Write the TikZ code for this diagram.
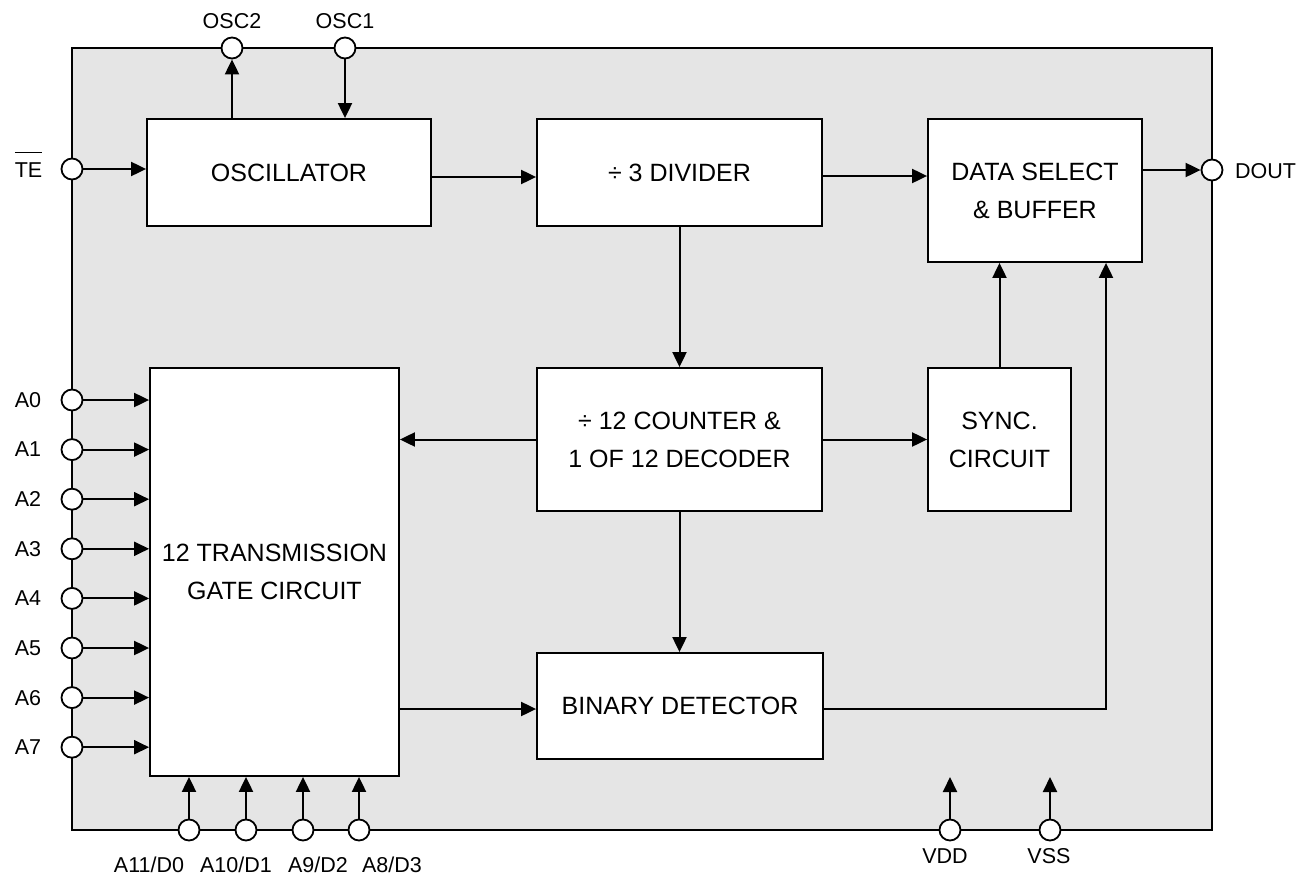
\documentclass[tikz,border=0pt]{standalone}
\usepackage{fontspec}
\setmainfont{Liberation Sans}
\usepackage{xcolor}
\usetikzlibrary{arrows.meta}

\definecolor{chipgray}{RGB}{229,229,229}

\begin{document}
\begin{tikzpicture}[x=1pt, y=-1pt,
	block/.style={rectangle, draw, fill=white, line width=1.8pt, align=center,
		inner sep=0pt, font=\fontsize{25}{38}\selectfont},
	pin/.style={circle, draw, fill=white, line width=1.8pt, minimum size=21pt, inner sep=0pt},
	pinlabel/.style={font=\fontsize{21.5}{26}\selectfont, inner sep=0pt},
	sig/.style={-{Triangle[length=15pt, width=14pt]}, line width=2pt}]

	\def \left {72}
	\def \bottom {830}
	\def \pitch {49.6} % spacing of the A0..A7 pins

	\useasboundingbox (0,0) rectangle (1310,878);
	\draw[fill=chipgray, line width=1.8pt] (\left,48) rectangle (1212,\bottom);

	% blocks
	\node[block, minimum width=284pt, minimum height=107pt] (osc) at (289,172.5) {OSCILLATOR};
	\node[block, minimum width=285pt, minimum height=107pt] (div) at (679.5,172.5) {÷ 3 DIVIDER};
	\node[block, minimum width=214pt, minimum height=143pt] (data) at (1035,190.5) {DATA SELECT\\\& BUFFER};
	\node[block, minimum width=249pt, minimum height=408pt] (gate) at (274.5,572) {12 TRANSMISSION\\GATE CIRCUIT};
	\node[block, minimum width=285pt, minimum height=143pt] (count) at (679.5,439.5) {÷ 12 COUNTER \&\\1 OF 12 DECODER};
	\node[block, minimum width=143pt, minimum height=143pt] (sync) at (999.5,439.5) {SYNC.\\CIRCUIT};
	\node[block, minimum width=286pt, minimum height=106pt] (bin) at (680,706) {BINARY DETECTOR};

	% pins on top and sides
	\node[pin] (osc2) at (232,48) {};
	\node[pinlabel] (osc2lbl) at (232,21) {OSC2};
	\node[pin] (osc1) at (345,48) {};
	\node[pinlabel] (osc1lbl) at (345,21) {OSC1};
	\node[pin] (te) at (\left,169) {};
	\node[pinlabel, anchor=base] (telbl) at (28.5,177) {$\overline{\mbox{\rule{0pt}{23pt}TE}}$};
	\node[pin] (dout) at (1212,170) {};
	\node[pinlabel, anchor=base west] (doutlbl) at (1235,178) {DOUT};

	\draw[sig] (te) -- (osc.west |- te);
	\draw[sig] (osc.north -| osc2) -- (osc2);
	\draw[sig] (osc1) -- (osc.north -| osc1);
	\draw[sig] ([yshift=-4.5pt]osc.east) -- ([yshift=-4.5pt]div.west);
	\draw[sig] ([yshift=-3.5pt]div.east) -- ([yshift=14.5pt]data.west);
	\draw[sig] ([yshift=20.5pt]data.east) -- (dout);

	\draw[sig] (div.south) -- (count.north);
	\draw[sig] (count.west) -- (count.west -| gate.east);
	\draw[sig] (count.east) -- (sync.west);
	\draw[sig] (sync.north) -- (sync.north |- data.south);
	\draw[sig] (count.south) -- (count.south |- bin.north);

	\coordinate (binin) at ([yshift=-3pt]bin.west);
	\draw[sig] (gate.east |- binin) -- (binin);
	\draw[sig] ([yshift=-3pt]bin.east) -| ([xshift=71pt]data.south);

	% address inputs
	\foreach \i in {0,...,7} {
		\node[pin] (a\i) at (\left,{400+\pitch*\i}) {};
		\node[pinlabel] (a\i lbl) at (28,{400+\pitch*\i}) {A\i};
		\draw[sig] (a\i) -- (gate.west |- a\i);
	}

	% address / data inputs
	\foreach \x/\txt/\lx [count=\k] in {189/{A11/D0}/149, 246/{A10/D1}/236, 303/{A9/D2}/318, 359/{A8/D3}/392} {
		\node[pin] (b\k) at (\x,\bottom) {};
		\node[pinlabel] (b\k lbl) at (\lx,865) {\txt};
		\draw[sig] (b\k) -- (gate.south -| b\k);
	}

	% supply
	\node[pin] (vdd) at (950,\bottom) {};
	\node[pinlabel] (vddlbl) at (945,856) {VDD};
	\coordinate (vddend) at (950,777);
	\draw[sig] (vdd) -- (vddend);
	\node[pin] (vss) at (1050,\bottom) {};
	\node[pinlabel] (vsslbl) at (1049,856) {VSS};
	\coordinate (vssend) at (1050,777);
	\draw[sig] (vss) -- (vssend);

\end{tikzpicture}
\end{document}
